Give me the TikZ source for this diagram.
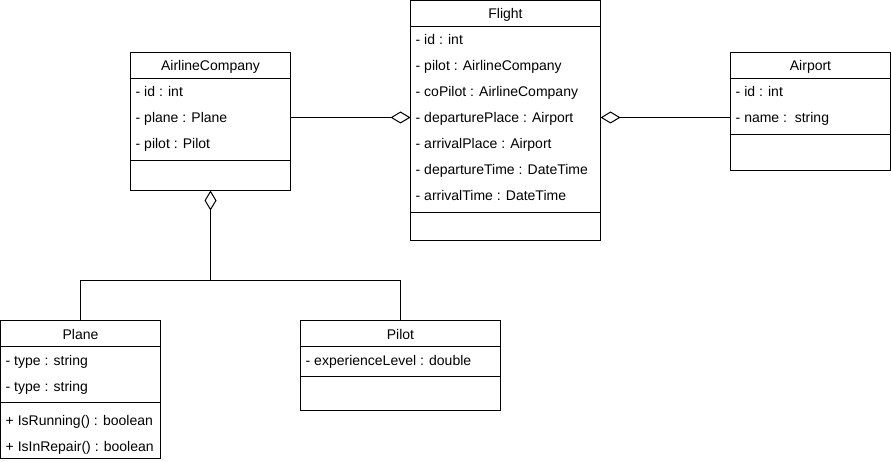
\documentclass[tikz,border=0pt]{standalone}
\usepackage{fontspec}
\setmainfont{Liberation Sans}
\usepackage{xcolor}
\usepackage{tikz}
\usetikzlibrary{arrows.meta}
\definecolor{stroke}{HTML}{000000}
\definecolor{ink}{HTML}{000000}
\definecolor{paper}{HTML}{FFFFFF}
\tikzset{
  cls/.style={draw=stroke, line width=1pt, fill=paper, inner sep=0pt, outer sep=0pt, anchor=north west},
  sep/.style={draw=stroke, line width=1pt},
  title/.style={text=ink, font=\fontsize{14}{16}\selectfont, inner sep=0pt, text height=11pt, text depth=0pt},
  attr/.style={text=ink, font=\fontsize{14}{16}\selectfont, anchor=west, inner sep=0pt, text height=11pt, text depth=0pt},
  agg/.style={{Diamond[open, length=20pt, width=12pt]}-, draw=stroke, line width=1pt},
  link/.style={draw=stroke, line width=1pt}
}

\begin{document}
\begin{tikzpicture}[x=1pt, y=-1pt]
  \useasboundingbox[fill=paper] (0,0) rectangle (891,462);

  % AirlineCompany
  \node[cls, minimum width=160pt, minimum height=138pt] (airline) at (130.5,52.5) {};
  \draw[sep] ([yshift=-26pt]airline.north west) -- ([yshift=-26pt]airline.north east);
  \draw[sep] ([yshift=-108pt]airline.north west) -- ([yshift=-108pt]airline.north east);
  \node[title] (airlineT) at ([yshift=-13pt]airline.north) {AirlineCompany};
  \foreach \t [count=\i from 0] in {- id : int, - plane : Plane, - pilot : Pilot}
    \node[attr] (airline\i) at ([xshift=5pt, yshift={-39pt-26pt*\i}]airline.north west) {\t};

  % Flight
  \node[cls, minimum width=190pt, minimum height=240pt] (flight) at (410.5,0.5) {};
  \draw[sep] ([yshift=-26pt]flight.north west) -- ([yshift=-26pt]flight.north east);
  \draw[sep] ([yshift=-212pt]flight.north west) -- ([yshift=-212pt]flight.north east);
  \node[title] (flightT) at ([yshift=-13pt]flight.north) {Flight};
  \foreach \t [count=\i from 0] in {- id : int, - pilot : AirlineCompany, - coPilot : AirlineCompany,
      - departurePlace : Airport, - arrivalPlace : Airport, - departureTime : DateTime, - arrivalTime : DateTime}
    \node[attr] (flight\i) at ([xshift=5pt, yshift={-39pt-26pt*\i}]flight.north west) {\t};

  % Airport
  \node[cls, minimum width=160pt, minimum height=118pt] (airport) at (730.5,52.5) {};
  \draw[sep] ([yshift=-26pt]airport.north west) -- ([yshift=-26pt]airport.north east);
  \draw[sep] ([yshift=-82pt]airport.north west) -- ([yshift=-82pt]airport.north east);
  \node[title] (airportT) at ([yshift=-13pt]airport.north) {Airport};
  \foreach \t [count=\i from 0] in {- id : int, - name :\ \ string}
    \node[attr] (airport\i) at ([xshift=5pt, yshift={-39pt-26pt*\i}]airport.north west) {\t};

  % Plane
  \node[cls, minimum width=160pt, minimum height=138pt] (plane) at (0.5,320.5) {};
  \draw[sep] ([yshift=-26pt]plane.north west) -- ([yshift=-26pt]plane.north east);
  \draw[sep] ([yshift=-82pt]plane.north west) -- ([yshift=-82pt]plane.north east);
  \node[title] (planeT) at ([yshift=-13pt]plane.north) {Plane};
  \foreach \t [count=\i from 0] in {- type : string, - type : string}
    \node[attr] (plane\i) at ([xshift=5pt, yshift={-39pt-26pt*\i}]plane.north west) {\t};
  \foreach \t [count=\i from 0] in {+ IsRunning() : boolean, + IsInRepair() : boolean}
    \node[attr] (planeM\i) at ([xshift=5pt, yshift={-99pt-26pt*\i}]plane.north west) {\t};

  % Pilot
  \node[cls, minimum width=200pt, minimum height=90pt] (pilot) at (300.5,320.5) {};
  \draw[sep] ([yshift=-26pt]pilot.north west) -- ([yshift=-26pt]pilot.north east);
  \draw[sep] ([yshift=-56pt]pilot.north west) -- ([yshift=-56pt]pilot.north east);
  \node[title] (pilotT) at ([yshift=-13pt]pilot.north) {Pilot};
  \node[attr] (pilot0) at ([xshift=5pt, yshift=-39pt]pilot.north west) {- experienceLevel : double};

  % aggregations
  \draw[agg] (flight.west |- flight3) -- (airline.east |- flight3);
  \draw[agg] (flight.east |- flight3) -- (airport.west |- flight3);
  \coordinate (fork) at ([yshift=-90pt]airline.south);
  \draw[agg] (airline.south) -- (fork);
  \draw[link] (plane.north) |- (fork) -| (pilot.north);
\end{tikzpicture}
\end{document}
